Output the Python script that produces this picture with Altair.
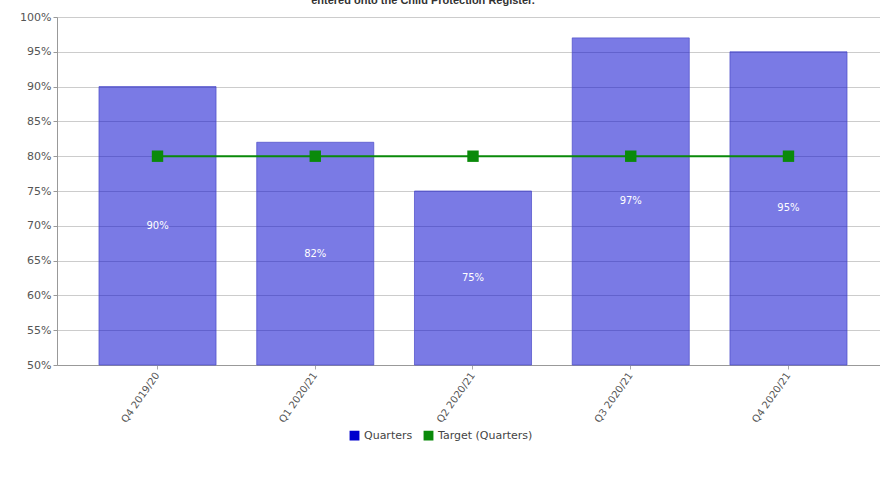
import altair as alt
import pandas as pd

quarters = ["Q4 2019/20", "Q1 2020/21", "Q2 2020/21", "Q3 2020/21", "Q4 2020/21"]
actual = [90, 82, 75, 97, 95]
target = [80, 80, 80, 80, 80]
y_ticks = [50, 55, 60, 65, 70, 75, 80, 85, 90, 95, 100]
series_names = ["Quarters", "Target (Quarters)"]
series_colors = ["#0000cd", "#0a8a0a"]
title_text = "entered onto the Child Protection Register."

bars_df = pd.DataFrame({"quarter": quarters, "value": actual, "series": series_names[0]})
bars_df["label"] = bars_df["value"].astype(str) + "%"
bars_df["mid"] = (bars_df["value"] + 50) / 2
target_df = pd.DataFrame({"quarter": quarters, "value": target, "series": series_names[1]})

FONT = "DejaVu Sans"

x_axis = alt.Axis(
    labelAngle=305, labelAlign="right", labelBaseline="middle",
    labelFont=FONT, labelFontSize=10, labelColor="#555555",
    tickSize=4, tickColor="#aaaaaa", domainColor="#999999",
    labelPadding=4, grid=False,
)
x_scale = alt.Scale(paddingInner=0.258, paddingOuter=0.2377, align=0.56)
y_scale = alt.Scale(domain=[50, 100], nice=False, clamp=True)
y_axis = alt.Axis(
    values=y_ticks, labelExpr="datum.value + '%'", labelOverlap=False,
    labelFont=FONT, labelFontSize=11, labelColor="#555555",
    tickSize=4, tickColor="#999999", domainColor="#999999",
    gridColor="#cccccc", gridWidth=1, labelPadding=2,
)


def xe():
    return alt.X("quarter:N", sort=quarters, title=None, scale=x_scale, axis=x_axis)


def ye(field):
    return alt.Y(f"{field}:Q", scale=y_scale, title=None, axis=y_axis)


color_enc = alt.Color(
    "series:N",
    scale=alt.Scale(domain=series_names, range=series_colors),
    legend=alt.Legend(
        title=None, orient="none", direction="horizontal",
        legendX=292, legendY=413, symbolType="square", symbolSize=70,
        symbolOpacity=1, labelFont=FONT, labelFontSize=11,
        labelColor="#444444", columnPadding=8, labelOffset=4,
    ),
)

bars = alt.Chart(bars_df).mark_bar(
    fillOpacity=0.52, stroke="#4a4ac8", strokeWidth=1, strokeOpacity=0.7
).encode(x=xe(), y=ye("value"), y2=alt.datum(50), color=color_enc)

labels = alt.Chart(bars_df).mark_text(
    color="white", font=FONT, fontSize=10, baseline="middle"
).encode(x=xe(), y=ye("mid"), text="label:N")

line = alt.Chart(target_df).mark_line(strokeWidth=2).encode(
    x=xe(), y=ye("value"), color=color_enc,
)
points = alt.Chart(target_df).mark_point(
    shape="square", filled=True, size=130, opacity=1
).encode(x=xe(), y=ye("value"), color=color_enc)

title = alt.Chart(pd.DataFrame({"t": [title_text]})).mark_text(
    font="Liberation Sans", fontSize=11, fontWeight="bold", color="#333333",
    baseline="alphabetic", align="center",
).encode(x=alt.value(366), y=alt.value(-13), text="t:N")

chart = alt.layer(bars, labels, line, points, title).properties(
    width=823, height=348,
    autosize=alt.AutoSizeParams(type="none"),
    padding={"left": 57, "top": 17, "right": 0, "bottom": 118},
).configure_view(stroke=None).configure(background="white")

chart.save("out.html", embed_options={"renderer": "svg", "actions": False})
